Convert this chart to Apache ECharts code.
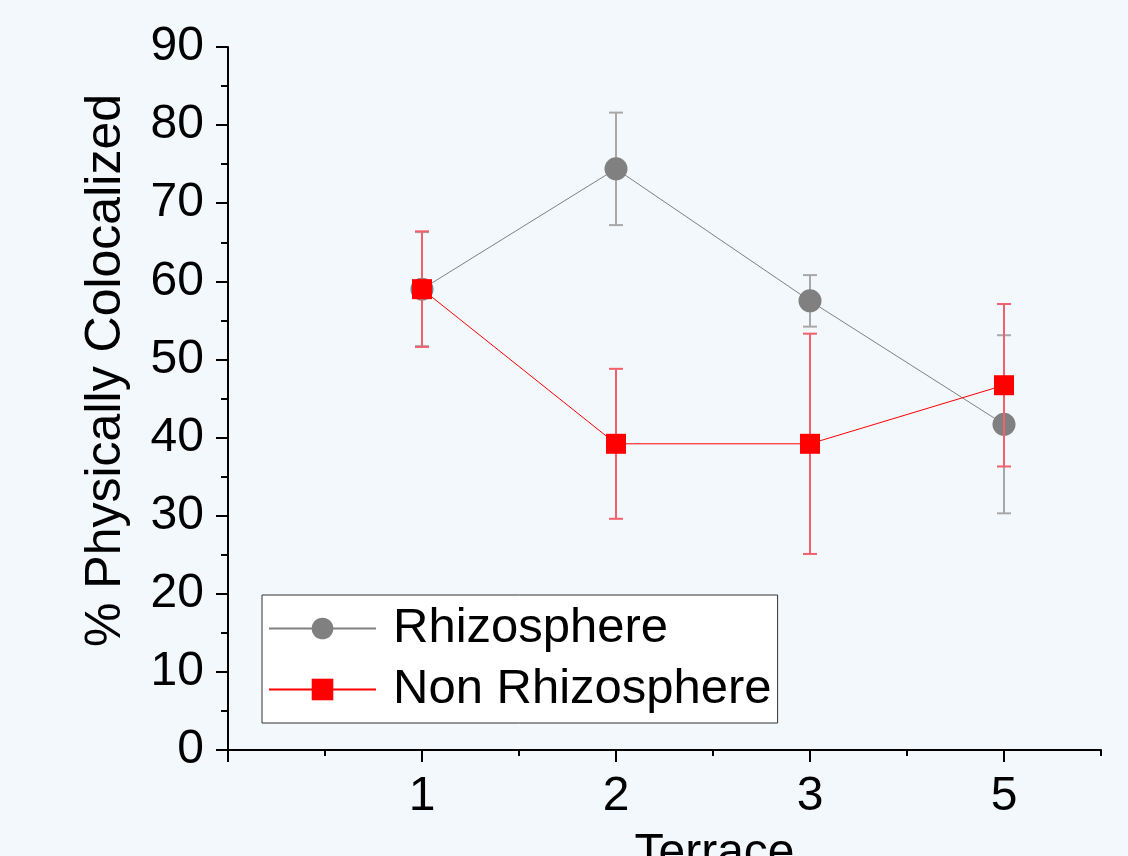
<!DOCTYPE html>
<html>
<head>
<meta charset="utf-8">
<script src="https://cdn.jsdelivr.net/npm/echarts@6/dist/echarts.min.js"></script>
<style>
  html, body { margin: 0; padding: 0; background: #f3f8fc; }
  #chart { width: 1128px; height: 856px; }
</style>
</head>
<body>
<div id="chart"></div>
<script>
// Terrace categories and their positions on the x axis
const terraces = ['1', '2', '3', '5'];
const terracePos = [1, 2, 3, 4];

// Mean % physically colocalized and error (±) per terrace
const rhizoMean = [59.0, 74.4, 57.5, 41.7];
const rhizoErr = [7.3, 7.2, 3.3, 11.4];
const nonRhizoMean = [59.0, 39.2, 39.2, 46.7];
const nonRhizoErr = [7.4, 9.6, 14.1, 10.4];

const yTicks = [0, 10, 20, 30, 40, 50, 60, 70, 80, 90];

const FONT = "'Liberation Sans', Arial, Helvetica, sans-serif";

function points(means) {
  return terracePos.map((x, i) => [x, means[i]]);
}
function ranges(means, errs) {
  return terracePos.map((x, i) => [x, means[i] - errs[i], means[i] + errs[i]]);
}

// Vertical bar with caps spanning [low, high]
function errorBar(color) {
  return function (params, api) {
    const x = api.value(0);
    const lo = api.coord([x, api.value(1)]);
    const hi = api.coord([x, api.value(2)]);
    const half = 7;
    const style = { stroke: color, lineWidth: 2 };
    return {
      type: 'group',
      children: [
        { type: 'line', shape: { x1: hi[0], y1: hi[1], x2: lo[0], y2: lo[1] }, style: style },
        { type: 'line', shape: { x1: hi[0] - half, y1: hi[1], x2: hi[0] + half, y2: hi[1] }, style: style },
        { type: 'line', shape: { x1: lo[0] - half, y1: lo[1], x2: lo[0] + half, y2: lo[1] }, style: style }
      ]
    };
  };
}

const chart = echarts.init(document.getElementById('chart'), null, { renderer: 'canvas' });

chart.setOption({
  backgroundColor: '#f3f8fc',
  animation: false,
  textStyle: { fontFamily: FONT },
  grid: { left: 228, right: 27, top: 47, bottom: 106, outerBoundsMode: 'none', containLabel: false },
  legend: {
    data: ['Rhizosphere', 'Non Rhizosphere'],
    orient: 'vertical',
    left: 262,
    top: 595,
    backgroundColor: '#ffffff',
    borderColor: '#333333',
    borderWidth: 1,
    padding: [9, 6, 9, 6],
    itemWidth: 107,
    itemHeight: 27,
    itemGap: 12,
    textStyle: { fontSize: 49, color: '#000', fontFamily: FONT, padding: [0, 0, 0, 12] }
  },
  xAxis: [{
    type: 'value',
    min: 0,
    max: 4.5,
    interval: 1,
    position: 'bottom',
    name: 'Terrace',
    nameLocation: 'middle',
    nameGap: 80,
    nameTextStyle: { fontSize: 48, color: '#000', fontFamily: FONT, padding: [0, 0, 0, 100] },
    axisLine: { show: true, onZero: false, lineStyle: { color: '#000', width: 2 } },
    axisTick: { show: true, inside: false, length: 12, lineStyle: { color: '#000', width: 2 }, customValues: [0, 1, 2, 3, 4] },
    axisLabel: {
      fontSize: 48, color: '#000', margin: 23, fontFamily: FONT,
      customValues: terracePos,
      formatter: v => terraces[terracePos.indexOf(v)] || ''
    },
    splitLine: { show: false }
  }, {
    type: 'value',
    min: 0,
    max: 4.5,
    interval: 0.5,
    position: 'bottom',
    axisLine: { show: false, onZero: false },
    axisTick: { show: true, inside: false, length: 6, lineStyle: { color: '#000', width: 2 }, customValues: [0.5, 1.5, 2.5, 3.5, 4.5] },
    axisLabel: { show: false },
    splitLine: { show: false }
  }],
  yAxis: {
    type: 'value',
    min: yTicks[0],
    max: yTicks[yTicks.length - 1],
    interval: 10,
    name: '% Physically Colocalized',
    nameLocation: 'middle',
    nameGap: 97,
    nameTextStyle: { fontSize: 50, color: '#000', fontFamily: FONT, padding: [0, 0, 0, 56] },
    axisLine: { show: true, lineStyle: { color: '#000', width: 2 } },
    axisTick: { show: true, inside: false, length: 12, lineStyle: { color: '#000', width: 2 } },
    minorTick: { show: true, splitNumber: 2, length: 7, lineStyle: { color: '#000', width: 2 } },
    axisLabel: { fontSize: 48, color: '#000', margin: 24, fontFamily: FONT },
    splitLine: { show: false }
  },
  series: [
    {
      name: 'Rhizosphere error',
      type: 'custom',
      z: 2,
      renderItem: errorBar('#a8a8a8'),
      encode: { x: 0, y: [1, 2] },
      data: ranges(rhizoMean, rhizoErr)
    },
    {
      name: 'Rhizosphere',
      type: 'line',
      z: 3,
      data: points(rhizoMean),
      symbol: 'circle',
      symbolSize: 23,
      itemStyle: { color: '#808080' },
      lineStyle: { color: '#808080', width: 1 }
    },
    {
      name: 'Non Rhizosphere error',
      type: 'custom',
      z: 4,
      renderItem: errorBar('#f2606c'),
      encode: { x: 0, y: [1, 2] },
      data: ranges(nonRhizoMean, nonRhizoErr)
    },
    {
      name: 'Non Rhizosphere',
      type: 'line',
      z: 5,
      data: points(nonRhizoMean),
      symbol: 'rect',
      symbolSize: 20,
      itemStyle: { color: '#ff0000' },
      lineStyle: { color: '#ff0000', width: 1 }
    }
  ]
});
</script>
</body>
</html>
